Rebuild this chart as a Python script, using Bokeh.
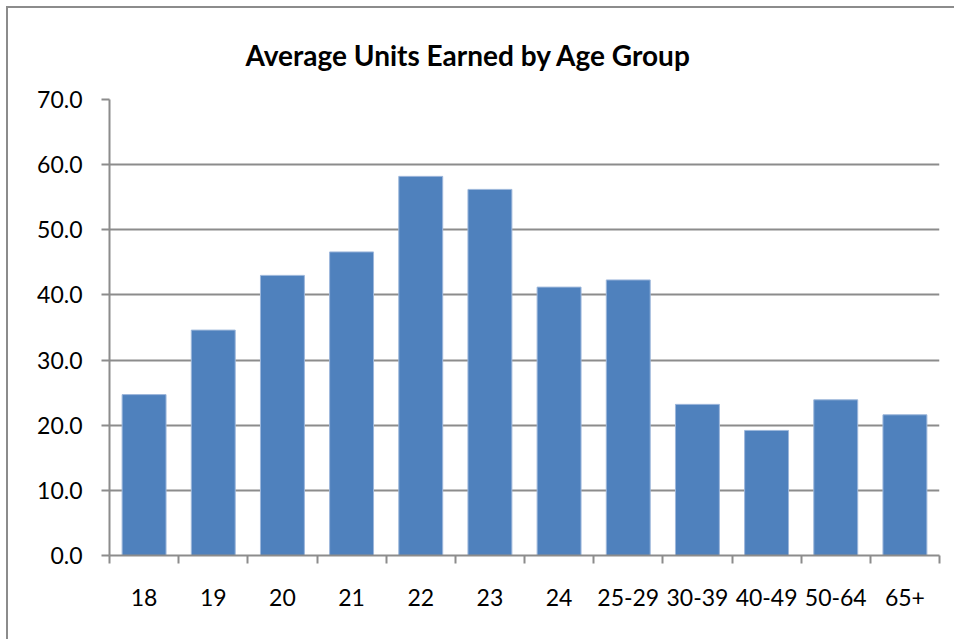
from bokeh.plotting import figure
from bokeh.models import FixedTicker, Range1d, ColumnDataSource
from bokeh.embed import file_html
from bokeh.resources import INLINE

title_text = "Average Units Earned by Age Group"
age_groups = ["18", "19", "20", "21", "22", "23", "24", "25-29", "30-39", "40-49", "50-64", "65+"]
avg_units = [24.7, 34.6, 43.0, 46.6, 58.2, 56.2, 41.2, 42.3, 23.2, 19.2, 23.9, 21.6]
y_ticks = [0, 10, 20, 30, 40, 50, 60, 70]
y_tick_labels = ["0.0", "10.0", "20.0", "30.0", "40.0", "50.0", "60.0", "70.0"]

n = len(age_groups)
centers = [i + 0.5 for i in range(n)]
bounds = list(range(n + 1))
src = ColumnDataSource(dict(x=centers, top=avg_units, name=age_groups))

FONT = "Lato"
GRID = "#8c8c8c"

p = figure(width=946, height=631, output_backend="svg", toolbar_location=None,
           x_range=Range1d(0, n), y_range=Range1d(0, 70),
           min_border_left=101, min_border_right=15, min_border_top=91, min_border_bottom=84,
           title=title_text)
p.styles = {"outline": "2px solid #8c8c8c", "margin-left": "8px", "margin-top": "8px"}

p.title.text_font = FONT
p.title.text_font_size = "28px"
p.title.text_font_style = "bold"
p.title.text_color = "black"
p.title.align = "left"
p.title.offset = 136
p.title.standoff = 55

p.vbar(x="x", top="top", width=0.635, source=src,
       fill_color="#4F81BD", line_color="#9db7db", line_width=1)

p.outline_line_color = None
p.background_fill_color = "white"
p.border_fill_color = "white"

# x axis
xa = p.xaxis[0]
xa.ticker = FixedTicker(ticks=centers, minor_ticks=bounds)
xa.major_label_overrides = {c: name for c, name in zip(centers, age_groups)}
xa.major_tick_out = 0
xa.major_tick_in = 0
xa.minor_tick_out = 8
xa.minor_tick_in = 0
xa.minor_tick_line_color = GRID
xa.minor_tick_line_width = 2
xa.axis_line_color = GRID
xa.axis_line_width = 2
xa.major_label_text_font = FONT
xa.major_label_text_font_size = "23px"
xa.major_label_text_color = "black"
xa.major_label_standoff = 25

# y axis
ya = p.yaxis[0]
ya.ticker = FixedTicker(ticks=y_ticks, minor_ticks=[])
ya.major_label_overrides = {t: l for t, l in zip(y_ticks, y_tick_labels)}
ya.major_tick_out = 8
ya.major_tick_in = 0
ya.major_tick_line_color = GRID
ya.major_tick_line_width = 2
ya.axis_line_color = GRID
ya.axis_line_width = 2
ya.major_label_text_font = FONT
ya.major_label_text_font_size = "23px"
ya.major_label_text_color = "black"
ya.major_label_standoff = 19

p.xgrid.grid_line_color = None
p.ygrid.ticker = FixedTicker(ticks=y_ticks)
p.ygrid.grid_line_color = GRID
p.ygrid.grid_line_width = 2

open("out.html", "w").write(file_html(p, INLINE))
